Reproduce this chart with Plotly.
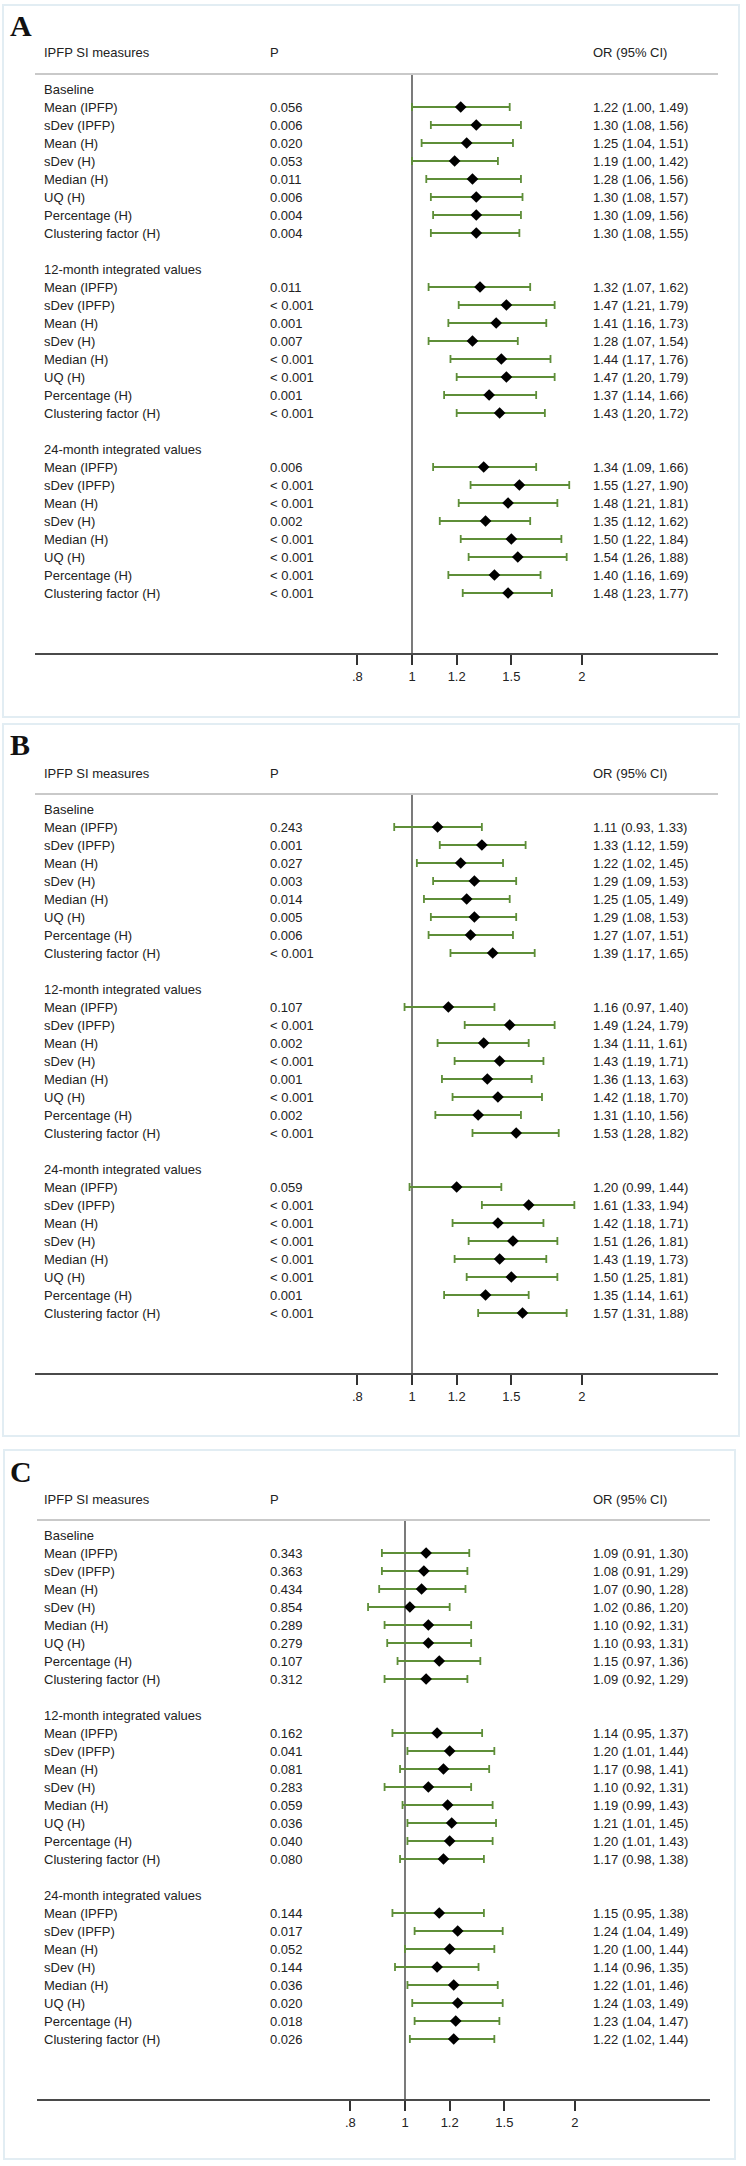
import math
import plotly.graph_objects as go

W, H = 746, 2166

# ---------------- data ----------------
groups = ["Baseline", "12-month integrated values", "24-month integrated values"]
measures = ["Mean (IPFP)", "sDev (IPFP)", "Mean (H)", "sDev (H)",
            "Median (H)", "UQ (H)", "Percentage (H)", "Clustering factor (H)"]
tick_vals = [0.8, 1, 1.2, 1.5, 2]
tick_text = [".8", "1", "1.2", "1.5", "2"]

# Panel A
a_p = ["0.056", "0.006", "0.020", "0.053", "0.011", "0.006", "0.004", "0.004",
       "0.011", "< 0.001", "0.001", "0.007", "< 0.001", "< 0.001", "0.001", "< 0.001",
       "0.006", "< 0.001", "< 0.001", "0.002", "< 0.001", "< 0.001", "< 0.001", "< 0.001"]
a_or = [1.22, 1.30, 1.25, 1.19, 1.28, 1.30, 1.30, 1.30,
        1.32, 1.47, 1.41, 1.28, 1.44, 1.47, 1.37, 1.43,
        1.34, 1.55, 1.48, 1.35, 1.50, 1.54, 1.40, 1.48]
a_lo = [1.00, 1.08, 1.04, 1.00, 1.06, 1.08, 1.09, 1.08,
        1.07, 1.21, 1.16, 1.07, 1.17, 1.20, 1.14, 1.20,
        1.09, 1.27, 1.21, 1.12, 1.22, 1.26, 1.16, 1.23]
a_hi = [1.49, 1.56, 1.51, 1.42, 1.56, 1.57, 1.56, 1.55,
        1.62, 1.79, 1.73, 1.54, 1.76, 1.79, 1.66, 1.72,
        1.66, 1.90, 1.81, 1.62, 1.84, 1.88, 1.69, 1.77]

# Panel B
b_p = ["0.243", "0.001", "0.027", "0.003", "0.014", "0.005", "0.006", "< 0.001",
       "0.107", "< 0.001", "0.002", "< 0.001", "0.001", "< 0.001", "0.002", "< 0.001",
       "0.059", "< 0.001", "< 0.001", "< 0.001", "< 0.001", "< 0.001", "0.001", "< 0.001"]
b_or = [1.11, 1.33, 1.22, 1.29, 1.25, 1.29, 1.27, 1.39,
        1.16, 1.49, 1.34, 1.43, 1.36, 1.42, 1.31, 1.53,
        1.20, 1.61, 1.42, 1.51, 1.43, 1.50, 1.35, 1.57]
b_lo = [0.93, 1.12, 1.02, 1.09, 1.05, 1.08, 1.07, 1.17,
        0.97, 1.24, 1.11, 1.19, 1.13, 1.18, 1.10, 1.28,
        0.99, 1.33, 1.18, 1.26, 1.19, 1.25, 1.14, 1.31]
b_hi = [1.33, 1.59, 1.45, 1.53, 1.49, 1.53, 1.51, 1.65,
        1.40, 1.79, 1.61, 1.71, 1.63, 1.70, 1.56, 1.82,
        1.44, 1.94, 1.71, 1.81, 1.73, 1.81, 1.61, 1.88]

# Panel C
c_p = ["0.343", "0.363", "0.434", "0.854", "0.289", "0.279", "0.107", "0.312",
       "0.162", "0.041", "0.081", "0.283", "0.059", "0.036", "0.040", "0.080",
       "0.144", "0.017", "0.052", "0.144", "0.036", "0.020", "0.018", "0.026"]
c_or = [1.09, 1.08, 1.07, 1.02, 1.10, 1.10, 1.15, 1.09,
        1.14, 1.20, 1.17, 1.10, 1.19, 1.21, 1.20, 1.17,
        1.15, 1.24, 1.20, 1.14, 1.22, 1.24, 1.23, 1.22]
c_lo = [0.91, 0.91, 0.90, 0.86, 0.92, 0.93, 0.97, 0.92,
        0.95, 1.01, 0.98, 0.92, 0.99, 1.01, 1.01, 0.98,
        0.95, 1.04, 1.00, 0.96, 1.01, 1.03, 1.04, 1.02]
c_hi = [1.30, 1.29, 1.28, 1.20, 1.31, 1.31, 1.36, 1.29,
        1.37, 1.44, 1.41, 1.31, 1.43, 1.45, 1.43, 1.38,
        1.38, 1.49, 1.44, 1.35, 1.46, 1.49, 1.47, 1.44]

panels = [
    dict(label="A", p=a_p, orr=a_or, lo=a_lo, hi=a_hi),
    dict(label="B", p=b_p, orr=b_or, lo=b_lo, hi=b_hi),
    dict(label="C", p=c_p, orr=c_or, lo=c_lo, hi=c_hi),
]

# ---------------- layout geometry (pixels) ----------------
geo = [
    dict(dy=0, x1=412, xl=35, xr=718, frame=(3, 5, 739, 717)),
    dict(dy=720, x1=412, xl=35, xr=718, frame=(3, 724, 739, 1436)),
    dict(dy=1446, x1=405, xl=37, xr=710, frame=(4, 1450, 735, 2159)),
]
SCALE = 245.0      # px per natural-log unit
ROW0 = 89          # pixel of first row (Baseline) in panel A
STEP = 18          # row spacing
HEAD_Y = 53
HLINE_Y = 74
AXIS_Y = 653
LAB_X, P_X, OR_X = 42, 268, 591

TXT = dict(family="Liberation Sans, Arial, sans-serif", size=13, color="#222222")
GREEN = "#5e8e38"


def py(y):
    return 1 - y / H


def pxx(x):
    return x / W


fig = go.Figure()
shapes, annotations = [], []

for i, (pn, g) in enumerate(zip(panels, geo)):
    n = i + 1
    xa = "x" if n == 1 else f"x{n}"
    ya = "y" if n == 1 else f"y{n}"
    dy = g["dy"]

    # row indices: group header at 10*k, items at 10*k+1..8
    rows = []
    for k in range(3):
        for j in range(8):
            rows.append(10 * k + 1 + j)

    err_plus = [h - o for h, o in zip(pn["hi"], pn["orr"])]
    err_minus = [o - l for o, l in zip(pn["orr"], pn["lo"])]

    fig.add_trace(go.Scatter(
        x=pn["orr"], y=rows, mode="markers",
        marker=dict(symbol="diamond", size=9, color="black"),
        error_x=dict(type="data", symmetric=False, array=err_plus,
                     arrayminus=err_minus, color=GREEN, thickness=1.8, width=4),
        xaxis=xa, yaxis=ya, showlegend=False, hoverinfo="skip",
    ))

    # axes
    lo_ln = (g["xl"] - g["x1"]) / SCALE
    hi_ln = (g["xr"] - g["x1"]) / SCALE
    xrange = [lo_ln / math.log(10), hi_ln / math.log(10)]
    ytop_px = HLINE_Y + dy
    ybot_px = AXIS_Y + dy
    r_top = (ytop_px - (ROW0 + dy)) / STEP
    r_bot = (ybot_px - (ROW0 + dy)) / STEP

    fig.update_layout(**{
        ("xaxis" if n == 1 else f"xaxis{n}"): dict(
            type="log", range=xrange, domain=[pxx(g["xl"]), pxx(g["xr"])],
            anchor=ya, showline=True, linecolor="#4a4a4a", linewidth=2,
            ticks="outside", ticklen=10, tickwidth=2, tickcolor="#333333",
            tickvals=tick_vals, ticktext=tick_text, tickfont=TXT,
            showgrid=False, zeroline=False, fixedrange=True,
        ),
        ("yaxis" if n == 1 else f"yaxis{n}"): dict(
            range=[r_bot, r_top], domain=[py(ybot_px), py(ytop_px)],
            anchor=xa, visible=False, showgrid=False, zeroline=False,
            fixedrange=True,
        ),
    })

    # frame
    fx0, fy0, fx1, fy1 = g["frame"]
    shapes.append(dict(type="rect", xref="paper", yref="paper",
                       x0=pxx(fx0), x1=pxx(fx1), y0=py(fy1), y1=py(fy0),
                       line=dict(color="#e2edf3", width=2), fillcolor="rgba(0,0,0,0)",
                       layer="below"))
    # header rule
    shapes.append(dict(type="line", xref="paper", yref="paper",
                       x0=pxx(g["xl"]), x1=pxx(g["xr"]),
                       y0=py(HLINE_Y + dy), y1=py(HLINE_Y + dy),
                       line=dict(color="#c9c9c9", width=2)))
    # null line at OR = 1
    shapes.append(dict(type="line", xref=xa, yref=f"{ya} domain",
                       x0=1, x1=1, y0=0, y1=1,
                       line=dict(color="#333333", width=1.3), layer="below"))

    # panel letter
    annotations.append(dict(text=f"<b>{pn['label']}</b>", xref="paper", yref="paper",
                            x=pxx(8), y=py(25 + dy), xanchor="left", yanchor="middle",
                            showarrow=False,
                            font=dict(family="Liberation Serif, Times New Roman, serif",
                                      size=30, color="#111111")))
    # headers
    for txt, x in [("IPFP SI measures", LAB_X), ("P", P_X), ("OR (95% CI)", OR_X)]:
        annotations.append(dict(text=txt, xref="paper", yref="paper",
                                x=pxx(x), y=py(HEAD_Y + dy), xanchor="left",
                                yanchor="middle", showarrow=False, font=TXT))
    # group labels
    for k, gname in enumerate(groups):
        annotations.append(dict(text=gname, xref="paper", yref=ya, x=pxx(LAB_X),
                                y=10 * k, xanchor="left", yanchor="middle",
                                showarrow=False, font=TXT))
    # rows
    idx = 0
    for k in range(3):
        for j, m in enumerate(measures):
            r = 10 * k + 1 + j
            ortxt = f"{pn['orr'][idx]:.2f} ({pn['lo'][idx]:.2f}, {pn['hi'][idx]:.2f})"
            for txt, x in [(m, LAB_X), (pn["p"][idx], P_X), (ortxt, OR_X)]:
                annotations.append(dict(text=txt, xref="paper", yref=ya, x=pxx(x),
                                        y=r, xanchor="left", yanchor="middle",
                                        showarrow=False, font=TXT))
            idx += 1

fig.update_layout(
    width=W, height=H, margin=dict(l=0, r=0, t=0, b=0),
    paper_bgcolor="white", plot_bgcolor="rgba(0,0,0,0)",
    shapes=shapes, annotations=annotations, showlegend=False,
)

fig.write_html("out.html", config={"displayModeBar": False},
               post_script="document.body.style.margin='0';")
